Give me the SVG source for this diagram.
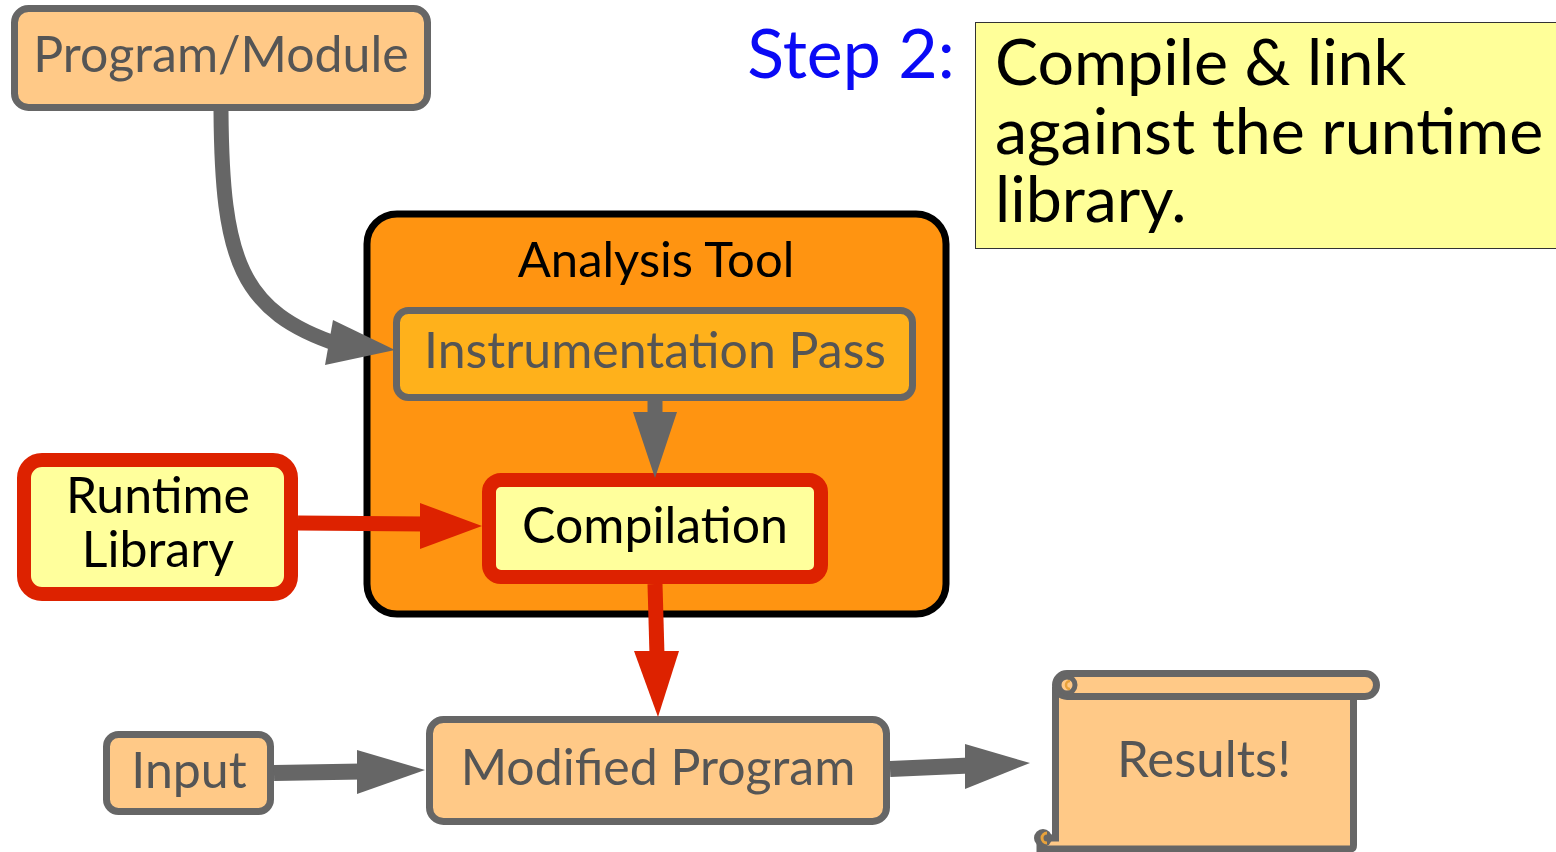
<svg xmlns="http://www.w3.org/2000/svg" width="1556" height="852" viewBox="0 0 1556 852">
<style>
text{font-family:Lato,"Liberation Sans",sans-serif;text-anchor:middle}
.gbox{fill:#FFC987;stroke:#666;stroke-width:7}
.gt{fill:#555;font-size:50px}
.rbox{fill:#FFFF9C;stroke:#DD2200;stroke-width:14}
.bt{fill:#000;font-size:50px}
.nt{font-size:64.5px;text-anchor:start;fill:#000}
.gl{fill:none;stroke:#666;stroke-width:15}
.rl{fill:none;stroke:#DD2200;stroke-width:15}
</style>
<rect width="1556" height="852" fill="#fff"/>
<g id="step2">
<text x="851" y="78" style="font-size:68px;fill:#0A0AF5">Step 2:</text>
</g>
<g id="note">
<rect x="975.5" y="22.5" width="590" height="226" fill="#FFFF99" stroke="#333" stroke-width="1"/>
<text x="995" y="85" class="nt">Compile &amp; link</text>
<text x="995" y="154" class="nt">against the runtime</text>
<text x="995" y="222" class="nt">library.</text>
</g>
<g id="analysis-tool">
<rect x="367" y="214" width="579" height="400" rx="30" fill="#FF9411" stroke="#000" stroke-width="7"/>
<text x="656" y="277" class="bt" style="font-size:49px">Analysis Tool</text>
</g>
<g id="program-module">
<rect x="14.5" y="8.5" width="413" height="99" rx="14" class="gbox"/>
<text x="221" y="72" class="gt">Program/Module</text>
</g>
<g id="instrumentation-pass">
<rect x="396.5" y="310.5" width="516" height="87" rx="12" class="gbox" style="fill:#FFB11B"/>
<text x="655" y="368" class="gt">Instrumentation Pass</text>
</g>
<g id="compilation">
<rect x="489" y="480" width="332" height="97" rx="12" class="rbox"/>
<text x="655" y="543" class="bt">Compilation</text>
</g>
<g id="runtime-library">
<rect x="24" y="460" width="267" height="134" rx="18" class="rbox"/>
<text x="158" y="513" class="bt">Runtime</text>
<text x="158" y="567" class="bt">Library</text>
</g>
<g id="input">
<rect x="106.5" y="734.5" width="164" height="77" rx="12" class="gbox"/>
<text x="189" y="788" class="gt">Input</text>
</g>
<g id="modified-program">
<rect x="429.5" y="719.5" width="457" height="102" rx="14" class="gbox"/>
<text x="658" y="785" class="gt">Modified Program</text>
</g>
<g id="results">
<path d="M1055.5,690 L1055.5,838 L1040,838 L1040,849 L1350,849 Q1353.5,849 1353.5,845 L1353.5,690 Z" class="gbox"/>
<rect x="1055.5" y="673.5" width="321" height="23" rx="11.5" class="gbox"/>
<circle cx="1067" cy="685" r="8" fill="#FFC987" stroke="#666" stroke-width="5"/>
<path d="M1070,681 A4,4 0 1 0 1070,689" fill="none" stroke="#E8A23B" stroke-width="2.5"/>
<circle cx="1043" cy="838" r="9" fill="#666"/>
<path d="M1047,833 A5,5 0 1 0 1047,843" fill="none" stroke="#E8A23B" stroke-width="3"/>
<text x="1204" y="777" class="gt" style="font-size:51px">Results!</text>
</g>
<g id="connectors">
<path d="M221,111 C222,260 240,312 340,345" class="gl"/>
<polygon points="395,350 333,320 325,365" fill="#666"/>
<line x1="655" y1="400" x2="655" y2="420" class="gl"/>
<polygon points="633,412 677,412 655,478" fill="#666"/>
<line x1="298" y1="523" x2="425" y2="524" class="rl"/>
<polygon points="420,503 482,526 420,549" fill="#DD2200"/>
<line x1="655" y1="584" x2="657" y2="655" class="rl"/>
<polygon points="634,651 679,651 658,717" fill="#DD2200"/>
<line x1="274" y1="773" x2="362" y2="771.5" style="stroke:#666;stroke-width:16"/>
<polygon points="357,750 425,770 357,794" fill="#666"/>
<line x1="890" y1="769" x2="970" y2="765.5" style="stroke:#666;stroke-width:16"/>
<polygon points="965,744 1030,763 965,789" fill="#666"/>
</g>
</svg>
